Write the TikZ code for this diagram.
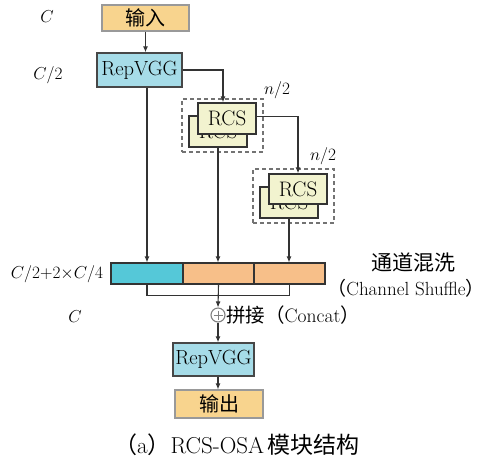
\documentclass[tikz,border=0pt]{standalone}
\usepackage{fontspec}
\newfontfamily\cjk{Noto Sans CJK SC}
\usetikzlibrary{arrows.meta,calc}
\definecolor{inorange}{HTML}{F8D48E}
\definecolor{repblue}{HTML}{A6DCE8}
\definecolor{rcsyel}{HTML}{F2F3CF}
\definecolor{barcyan}{HTML}{55C8D8}
\definecolor{barorange}{HTML}{F7BF89}
\definecolor{lncol}{HTML}{333333}
\tikzset{
  ln/.style={draw=lncol,line width=1.1pt},
  arr/.style={ln,-{Latex[length=6pt,width=5pt]}},
  iobox/.style={draw=gray!80,line width=1.1pt,fill=inorange,inner sep=0pt,font=\fontsize{20}{22}\selectfont\cjk},
  repbox/.style={draw=lncol!90,line width=1.4pt,fill=repblue,inner sep=0pt,minimum width=85pt,minimum height=34pt,font=\fontsize{20.5}{22}\selectfont},
  rcsbox/.style={draw=lncol,line width=1.4pt,fill=rcsyel,inner sep=0pt,minimum width=58pt,minimum height=31pt,font=\fontsize{21}{22}\selectfont},
  dbox/.style={draw=gray!90!black,dashed,line width=1.2pt,dash pattern=on 4pt off 3pt,inner sep=0pt},
  barseg/.style={draw=lncol,line width=1.1pt,inner sep=0pt,minimum height=21pt},
  lbl/.style={inner sep=0pt,font=\fontsize{18.5}{20}\selectfont},
}
\begin{document}
\begin{tikzpicture}[x=1pt,y=-1pt]
\useasboundingbox (0,0) rectangle (489,467);
% dashed groups
\node[dbox,minimum width=81pt,minimum height=53pt] (d1) at (222.5,125.5) {};
\node[dbox,minimum width=81pt,minimum height=54pt] (d2) at (293.5,196) {};
% boxes
\node[iobox,minimum width=87pt,minimum height=26pt] (in) at (145.5,18) {输入};
\node[repbox] (rep1) at (139.5,70) {RepVGG};
\node[rcsbox] (rcs1b) at (218,131.5) {\raisebox{-6pt}{RCS}};
\node[rcsbox] (rcs1) at (227,118.5) {RCS};
\node[rcsbox] (rcs2b) at (289,202.5) {\raisebox{-6pt}{RCS}};
\node[rcsbox,minimum height=30pt] (rcs2) at (298,189) {RCS};
\node[barseg,fill=barcyan,minimum width=72pt] (b1) at (147,273.5) {};
\node[barseg,fill=barorange,minimum width=71pt] (b2) at (218.5,273.5) {};
\node[barseg,fill=barorange,minimum width=71pt] (b3) at (289.5,273.5) {};
\node[draw=gray,line width=1.1pt,circle,minimum size=14pt,inner sep=0pt,fill=white] (circ) at (218,315) {};
\draw[gray,line width=0.9pt] ($(circ)+(-4.5,0)$) -- ($(circ)+(4.5,0)$) ($(circ)+(0,-4.5)$) -- ($(circ)+(0,4.5)$);
\node[repbox,minimum width=81pt,minimum height=33pt] (rep2) at (213.5,359.5) {RepVGG};
\node[iobox,minimum width=88pt,minimum height=28pt] (out) at (219,404) {输出};
% labels
\node[lbl] (lC1) at (47,17) {$C$};
\node[lbl] (lC2) at (48,75) {$C/2$};
\node[lbl,font=\fontsize{19}{20}\selectfont] (ln1) at (277,90) {$n/2$};
\node[lbl,font=\fontsize{19}{20}\selectfont] (ln2) at (323,156) {$n/2$};
\node[lbl,font=\fontsize{18}{20}\selectfont] (lsum) at (57,274) {$C/2{+}2{\times}C/4$};
\node[lbl] (lC3) at (75,317) {$C$};
\node[lbl,font=\fontsize{21}{24}\selectfont\cjk] (lshuf) at (413,262) {通道混洗};
\node[lbl,font=\fontsize{19}{24}\selectfont] (lshuf2) at (406,288) {{\cjk （}Channel Shuffle{\cjk ）}};
\node[lbl,anchor=west,font=\fontsize{19.5}{22}\selectfont] (lcat) at (226,315) {{\cjk 拼接（}Concat{\cjk ）}};
\node[lbl,font=\fontsize{23}{25}\selectfont] (cap) at (237,445) {{\cjk （}a{\cjk ）}RCS-OSA{\cjk\,模块结构}};
% connectors
\draw[arr] (in.south) -- (in.south |- rep1.north);
\draw[arr] (rep1.east) -| ([xshift=-4pt]rcs1.north);
\draw[arr] (b1.north |- rep1.south) -- (b1.north);
\draw[arr] (rcs1b.south) -- (rcs1b.south |- b2.north);
\draw[arr] ([yshift=2pt]rcs1.east) -| (rcs2.north);
\draw[arr] (rcs2b.south) -- (rcs2b.south |- b3.north);
\draw[ln] (b1.south) -- ++(0,11) -| (b3.south);
\draw[arr] (b2.south) -- (circ.north);
\draw[arr] (circ.south) -- (circ.south |- rep2.north);
\draw[arr] (circ.south |- rep2.south) -- (circ.south |- out.north);
\end{tikzpicture}
\end{document}
